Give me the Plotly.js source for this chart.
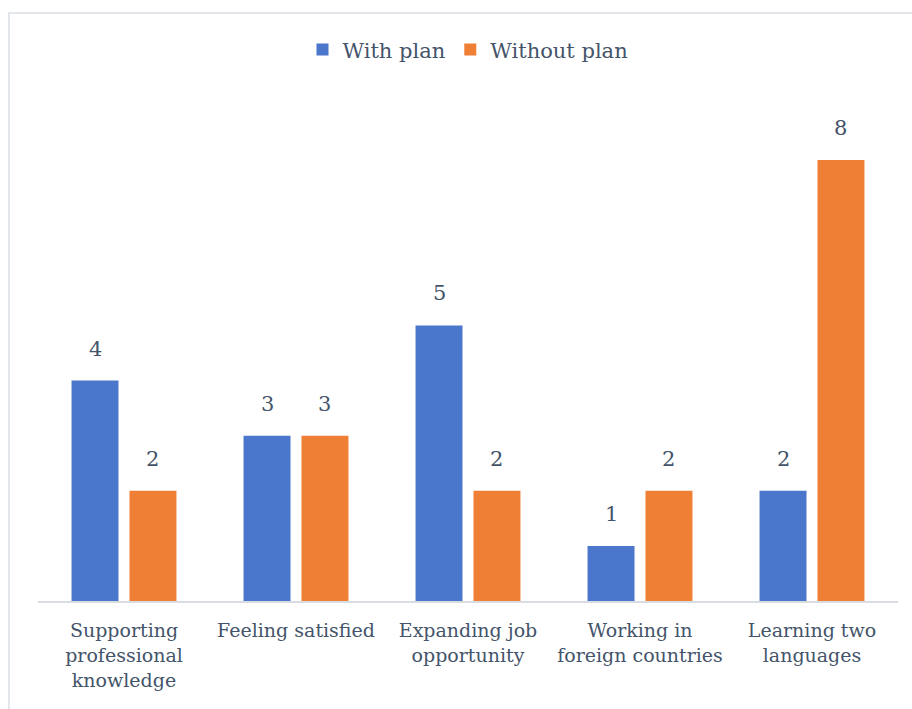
<!DOCTYPE html>
<html>
<head>
<meta charset="utf-8">
<script src="https://cdn.plot.ly/plotly-3.0.1.min.js"></script>
<style>
html,body{margin:0;padding:0;background:#fff;overflow:hidden;}
#chart{width:912px;height:709px;}
</style>
</head>
<body>
<div id="chart"></div>
<script>
const categories = [
  "Supporting<br>professional<br>knowledge",
  "Feeling satisfied",
  "Expanding job<br>opportunity",
  "Working in<br>foreign countries",
  "Learning two<br>languages"
];
const seriesNames = ["With plan", "Without plan"];
const withPlan = [4, 3, 5, 1, 2];
const withoutPlan = [2, 3, 2, 2, 8];

const textColor = "#44546a";
const fontFamily = "DejaVu Serif, serif";
const blue = "#4a76cc";
const orange = "#ef7f35";

const barWidth = 0.273;
const offsets = [-0.305, 0.032];

const traces = [
  {type: "bar", name: seriesNames[0], x: categories, y: withPlan,
   width: barWidth, offset: offsets[0], marker: {color: blue}, hoverinfo: "y"},
  {type: "bar", name: seriesNames[1], x: categories, y: withoutPlan,
   width: barWidth, offset: offsets[1], marker: {color: orange}, hoverinfo: "y"}
];

const annotations = [];
[withPlan, withoutPlan].forEach((vals, s) => {
  vals.forEach((v, i) => {
    annotations.push({
      x: i + offsets[s] + barWidth / 2, y: v, xref: "x", yref: "y",
      text: String(v), showarrow: false, yanchor: "bottom", yshift: 18,
      font: {family: fontFamily, size: 21, color: textColor}
    });
  });
});

const layout = {
  width: 912, height: 709,
  margin: {l: 38, r: 14, t: 105, b: 108},
  paper_bgcolor: "#ffffff", plot_bgcolor: "#ffffff",
  barmode: "overlay",
  showlegend: true,
  legend: {orientation: "h", x: 0.5, xanchor: "center", y: 1.111, yanchor: "middle",
           font: {family: fontFamily, size: 21, color: textColor}, itemwidth: 30},
  xaxis: {type: "category", showline: true, linecolor: "#d9dde3", linewidth: 1.5,
          showgrid: false, zeroline: false, ticks: "", range: [-0.5, 4.5],
          ticklabelstandoff: 12,
          tickfont: {family: fontFamily, size: 19, color: textColor}, fixedrange: true},
  yaxis: {range: [0, 9], visible: false, fixedrange: true},
  annotations: annotations,
  shapes: [{type: "rect", xref: "paper", yref: "paper",
            x0: (9 - 38) / 860, x1: 1.2, y0: -0.5, y1: (601 - 13) / 496,
            line: {color: "#dadee4", width: 1.5}, fillcolor: "rgba(0,0,0,0)", layer: "below"}]
};

Plotly.newPlot("chart", traces, layout, {displayModeBar: false, staticPlot: true});
</script>
</body>
</html>
